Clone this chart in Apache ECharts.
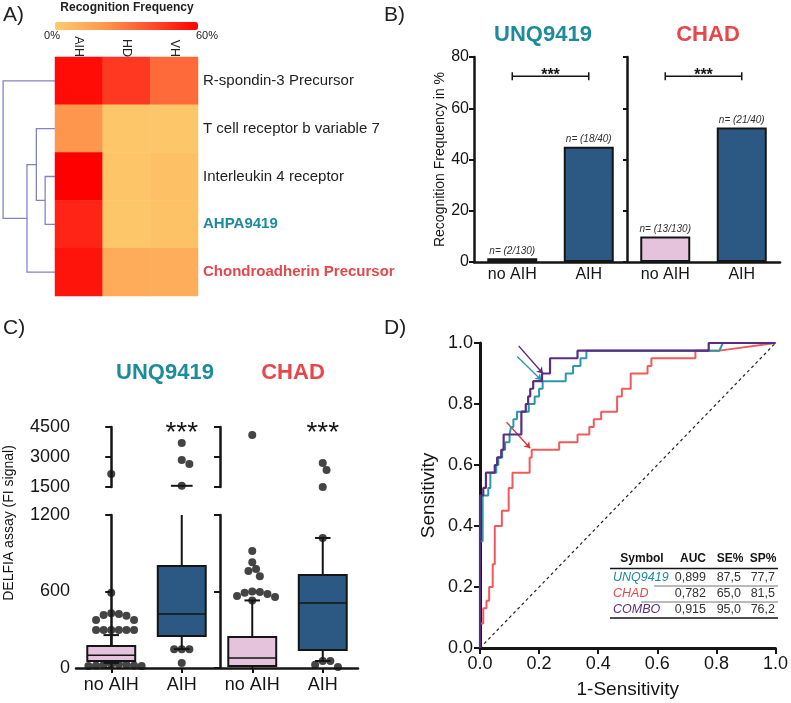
<!DOCTYPE html>
<html><head><meta charset="utf-8">
<script src="https://cdn.jsdelivr.net/npm/echarts@6/dist/echarts.min.js"></script>
<style>html,body{margin:0;padding:0;background:#fff}#c{width:791px;height:703px}</style>
</head><body><div id="c"></div>
<script>
// ---------- DATA ----------
// Panel A: heatmap (recognition frequency, %)
const heatCols = ['AIH', 'HD', 'VH'];
const heatRows = ['R-spondin-3 Precursor', 'T cell receptor b variable 7', 'Interleukin 4 receptor', 'AHPA9419', 'Chondroadherin Precursor'];
const heatVals = [
  [57, 46, 33],
  [21, 2, 2],
  [60, 3, 5],
  [51, 2, 4],
  [55, 13, 12]
];
// dendrogram merges: [nodeA, nodeB, height]; new node ids continue after the leaves
const dendroMerges = [[2, 3, 0.19], [1, 5, 0.36], [6, 4, 0.54], [0, 7, 1.0]];
const heatScaleMin = 0, heatScaleMax = 60;

// Panel B: bars
const barCats = ['no AIH', 'AIH', 'no AIH', 'AIH'];
const barVals = [1.5, 45, 10, 52.5];
const barN = ['n= (2/130)', 'n= (18/40)', 'n= (13/130)', 'n= (21/40)'];
const barSig = [[0, 72.5, 1], [2, 72.5, 3]];

// Panel C: box plots [min, Q1, median, Q3, max]
const boxCats = ['no AIH', 'AIH', 'no AIH', 'AIH'];
const boxStats = [
  [40, 55, 100, 172, 258],
  [148, 251, 424, 800, 1560],
  [0, 15, 78, 243, 530],
  [55, 141, 510, 730, 1020]
];
const boxOutliers = [
  [2150, 590, 430, 423, 416, 410, 376, 376, 298, 298, 298, 298, 298, 298, 30, 30, 25, 25, 20, 20, 15, 15],
  [3700, 2850, 2650, 1560, 148, 148, 148, 40],
  [4100, 917, 830, 776, 760, 720, 600, 596, 590, 580, 565, 557, 530],
  [2700, 2350, 1500, 1020, 55, 55, 25, 8]
];
const boxSig = [[1, 4500], [3, 4500]];

// Panel D: ROC curves [1-specificity, sensitivity]
const rocChad = [[0,0],[0,0.08],[0.011,0.08],[0.011,0.13],[0.022,0.13],[0.022,0.155],[0.031,0.155],[0.031,0.2],[0.043,0.2],[0.043,0.275],[0.05,0.275],[0.05,0.4],[0.074,0.4],[0.074,0.45],[0.097,0.45],[0.097,0.525],[0.11,0.525],[0.11,0.575],[0.168,0.575],[0.168,0.625],[0.175,0.625],[0.175,0.65],[0.268,0.65],[0.268,0.675],[0.33,0.675],[0.33,0.7],[0.37,0.7],[0.37,0.725],[0.385,0.725],[0.385,0.75],[0.41,0.75],[0.41,0.775],[0.464,0.775],[0.464,0.825],[0.48,0.825],[0.48,0.85],[0.51,0.85],[0.51,0.9],[0.567,0.9],[0.567,0.925],[0.58,0.925],[0.58,0.95],[0.729,0.95],[0.729,0.975],[0.81,0.975],[1,1]];
const rocUnq = [[0,0],[0,0.35],[0.009,0.35],[0.009,0.5],[0.028,0.5],[0.028,0.525],[0.035,0.525],[0.035,0.575],[0.055,0.575],[0.055,0.6],[0.062,0.6],[0.062,0.625],[0.075,0.625],[0.075,0.65],[0.085,0.65],[0.085,0.675],[0.1,0.675],[0.1,0.7],[0.105,0.7],[0.105,0.725],[0.113,0.725],[0.113,0.75],[0.125,0.75],[0.125,0.775],[0.165,0.775],[0.165,0.8],[0.185,0.8],[0.185,0.825],[0.2,0.825],[0.2,0.85],[0.212,0.85],[0.212,0.875],[0.29,0.875],[0.29,0.9],[0.315,0.9],[0.315,0.925],[0.34,0.925],[0.34,0.95],[0.36,0.95],[0.36,0.975],[0.81,0.975],[0.822,1],[1,1]];
const rocCombo = [[0,0],[0,0.5],[0.011,0.5],[0.011,0.525],[0.02,0.525],[0.02,0.575],[0.05,0.575],[0.05,0.6],[0.058,0.6],[0.058,0.625],[0.072,0.625],[0.072,0.65],[0.08,0.65],[0.08,0.7],[0.14,0.7],[0.14,0.775],[0.155,0.775],[0.155,0.8],[0.163,0.8],[0.163,0.825],[0.17,0.825],[0.17,0.85],[0.18,0.85],[0.18,0.875],[0.21,0.875],[0.21,0.9],[0.237,0.9],[0.237,0.95],[0.33,0.95],[0.33,0.975],[0.774,0.975],[0.774,1],[1,1]];
const rocArrowCombo = [[0.131, 0.99], [0.213, 0.9]];
const rocArrowUnq = [[0.126, 0.956], [0.208, 0.878]];
const rocArrowChad = [[0.09, 0.74], [0.17, 0.655]];

// table
const tblHead = ['Symbol', 'AUC', 'SE%', 'SP%'];
const tblNames = ['UNQ9419', 'CHAD', 'COMBO'];
const tblAUC = ['0,899', '0,782', '0,915'];
const tblSE = ['87,5', '65,0', '95,0'];
const tblSP = ['77,7', '81,5', '76,2'];

// ---------- STYLE ----------
const FONT = '"Liberation Sans", Arial, Helvetica, sans-serif';
const TEAL = '#1c8b9e', RED = '#e5474a', PURPLE = '#5a2d82', TEAL_L = '#2a98ab', RED_L = '#f15a5c';
const PINK = '#e6c3dc', BLUE = '#2c5884', INK = '#151515';
const groupColors = [PINK, BLUE, PINK, BLUE];

// layout of panel C (used for the dot swarm)
const C_LEFT = 76, C_W = 282, UP_TOP = 427, UP_H = 60, LO_TOP = 515, LO_H = 153;

// ---------- HELPERS ----------
function dendroSegments(merges, nLeaves) {
  const pos = [], h = [], segs = [];
  for (let i = 0; i < nLeaves; i++) { pos[i] = i; h[i] = 0; }
  merges.forEach((m, k) => {
    const a = m[0], b = m[1], ht = m[2], id = nLeaves + k;
    segs.push({ coords: [[h[a], pos[a]], [ht, pos[a]], [ht, pos[b]], [h[b], pos[b]]] });
    pos[id] = (pos[a] + pos[b]) / 2; h[id] = ht;
  });
  return segs;
}
function swarm(lists, lo, hi, pxPerUnit, catPx) {
  const placed = [], out = [];
  const dmin = 7.2, step = 3.8;
  lists.forEach((vals, g) => {
    vals.forEach(v => {
      if (v < lo || v > hi) return;
      const py = (v - lo) * pxPerUnit;
      for (let k = 0; k < 60; k++) {
        const off = (k % 2 === 1 ? 1 : -1) * Math.ceil(k / 2) * step;
        const px = g * catPx + off;
        if (placed.every(p => (p[0] - px) ** 2 + (p[1] - py) ** 2 >= dmin * dmin)) {
          placed.push([px, py]); out.push([g + off / catPx, v]); break;
        }
      }
    });
  });
  return out;
}
const heatData = [];
heatVals.forEach((row, r) => row.forEach((v, c) => heatData.push([c, r, v])));

const catPx = C_W / 4;
const lowerDots = swarm(boxOutliers, 0, 1200, LO_H / 1200, catPx);
const upperDots = swarm(boxOutliers, 1500, 4500, UP_H / 3000, catPx);

function boxRender(lower) {
  return function (params, api) {
    const i = api.value(0), mn = api.value(1), q1 = api.value(2), md = api.value(3), q3 = api.value(4), mx = api.value(5);
    const cw = api.size([1, 0])[0];
    const hw = cw * 0.34, cap = cw * 0.11;
    const x = api.coord([i, 0])[0];
    const Y = v => api.coord([i, v])[1];
    const ls = { stroke: INK, lineWidth: 2 };
    const ch = [];
    if (lower) {
      const top = Math.min(mx, 1200);
      ch.push({ type: 'line', shape: { x1: x, y1: Y(q3), x2: x, y2: Y(top) }, style: ls });
      if (mx <= 1200) ch.push({ type: 'line', shape: { x1: x - cap, y1: Y(mx), x2: x + cap, y2: Y(mx) }, style: ls });
      if (mn < q1) {
        ch.push({ type: 'line', shape: { x1: x, y1: Y(q1), x2: x, y2: Y(mn) }, style: ls });
        if (mn > 0) ch.push({ type: 'line', shape: { x1: x - cap, y1: Y(mn), x2: x + cap, y2: Y(mn) }, style: ls });
      }
      ch.push({ type: 'rect', shape: { x: x - hw, y: Y(q3), width: 2 * hw, height: Y(q1) - Y(q3) },
        style: { fill: groupColors[i], stroke: INK, lineWidth: 2 } });
      ch.push({ type: 'line', shape: { x1: x - hw, y1: Y(md), x2: x + hw, y2: Y(md) }, style: { stroke: INK, lineWidth: 1.6 } });
    } else if (mx >= 1500) {
      ch.push({ type: 'line', shape: { x1: x, y1: Y(1500), x2: x, y2: Y(mx) }, style: ls });
      ch.push({ type: 'line', shape: { x1: x - cap * 1.4, y1: Y(mx), x2: x + cap * 1.4, y2: Y(mx) }, style: ls });
    }
    return { type: 'group', children: ch };
  };
}

function txt(x, y, text, o) {
  o = o || {};
  return {
    type: 'text', x: x, y: y, rotation: o.rot || 0, silent: true,
    style: {
      text: text, fill: o.color || INK, fontSize: o.size || 14, fontWeight: o.weight || 'normal',
      fontStyle: o.style || 'normal', fontFamily: FONT,
      align: o.align || 'center', textAlign: o.align || 'center',
      verticalAlign: o.va || 'middle', textVerticalAlign: o.va || 'middle'
    }
  };
}
function hline(x1, x2, y, w, c) {
  return { type: 'line', silent: true, shape: { x1: x1, y1: y, x2: x2, y2: y }, style: { stroke: c || INK, lineWidth: w } };
}

// ---------- GRAPHIC TEXT ----------
const graphics = [
  txt(3, 15, 'A)', { size: 21, align: 'left', color: '#222' }),
  txt(384, 15, 'B)', { size: 21, align: 'left', color: '#222' }),
  txt(3, 328, 'C)', { size: 21, align: 'left', color: '#222' }),
  txt(384, 328, 'D)', { size: 21, align: 'left', color: '#222' }),
  txt(127, 8, 'Recognition Frequency', { size: 12, weight: 'bold', color: '#222' }),
  txt(52, 36, '0%', { size: 11, color: '#222' }),
  txt(207, 36, '60%', { size: 11, color: '#222' }),
  txt(543, 35, 'UNQ9419', { size: 22, weight: 'bold', color: TEAL }),
  txt(708, 35, 'CHAD', { size: 22, weight: 'bold', color: RED }),
  txt(165, 373, 'UNQ9419', { size: 22, weight: 'bold', color: TEAL }),
  txt(293, 373, 'CHAD', { size: 22, weight: 'bold', color: RED }),
  txt(9, 523, 'DELFIA assay (FI signal)', { size: 14, rot: Math.PI / 2 })
];
// table
const colX = [642, 693, 730, 763];
tblHead.forEach((h, i) => graphics.push(txt(colX[i], 559, h, { size: 12, weight: 'bold' })));
graphics.push(hline(610, 778, 568.5, 1.5));
const rowY = [578, 594, 610];
const nameCols = [TEAL, RED, PURPLE];
tblNames.forEach((n, r) => {
  graphics.push(txt(613, rowY[r], n, { size: 12.5, style: 'italic', align: 'left', color: nameCols[r] }));
  graphics.push(txt(706, rowY[r], tblAUC[r], { size: 12.5, align: 'right', color: '#333' }));
  graphics.push(txt(741, rowY[r], tblSE[r], { size: 12.5, align: 'right', color: '#333' }));
  graphics.push(txt(775, rowY[r], tblSP[r], { size: 12.5, align: 'right', color: '#333' }));
});
graphics.push(hline(654, 778, 586, 1, '#777'));
graphics.push(hline(641, 778, 602, 1, '#777'));
graphics.push(hline(610, 778, 618, 1.5));

// ---------- CHART ----------
const chart = echarts.init(document.getElementById('c'), null, { renderer: 'canvas', width: 791, height: 703 });
const axLine = w => ({ show: true, lineStyle: { color: INK, width: w } });
const axTick = (len) => ({ show: true, length: len, lineStyle: { color: INK, width: 2 } });
const plain = v => String(v);

const option = {
  animation: false,
  textStyle: { fontFamily: FONT },
  graphic: graphics,
  grid: [
    { left: 0, top: 57, width: 55, height: 239 },
    { left: 55, top: 57, width: 143, height: 239 },
    { left: 474, top: 57, width: 306, height: 205 },
    { left: C_LEFT, top: UP_TOP, width: C_W, height: UP_H },
    { left: C_LEFT, top: LO_TOP, width: C_W, height: LO_H },
    { left: 480, top: 343, width: 298, height: 305 }
  ],
  visualMap: {
    type: 'continuous', min: heatScaleMin, max: heatScaleMax, seriesIndex: 1, orient: 'horizontal',
    left: 55, top: 22, itemWidth: 8, itemHeight: 143, padding: 0, calculable: false, hoverLink: false,
    inRange: { color: ['#fdcc6c', '#fe9a50', '#ff5030', '#ff0000'] }
  },
  xAxis: [
    { gridIndex: 0, type: 'value', min: 0, max: 1.06, inverse: true, show: false },
    { gridIndex: 1, type: 'category', data: heatCols, position: 'top', axisLine: { show: false }, axisTick: { show: false },
      axisLabel: { rotate: 90, fontSize: 12.5, color: '#222', margin: 0 } },
    { gridIndex: 2, type: 'category', data: barCats, axisLine: axLine(2.5), axisTick: { show: false },
      axisLabel: { fontSize: 16, color: INK, margin: 5, interval: 0 } },
    { gridIndex: 3, type: 'value', min: -0.5, max: 3.5, show: false },
    { gridIndex: 4, type: 'category', data: boxCats, axisLine: axLine(2.5),
      axisTick: { show: true, alignWithLabel: true, interval: 0, length: 5, lineStyle: { color: INK, width: 2 } },
      axisLabel: { fontSize: 18, color: INK, margin: 8, interval: 0 } },
    { gridIndex: 4, type: 'value', min: -0.5, max: 3.5, show: false },
    { gridIndex: 5, type: 'value', min: 0, max: 1, interval: 0.2, axisLine: axLine(3), axisTick: axTick(6),
      splitLine: { show: false }, axisLabel: { fontSize: 18, color: INK, margin: 7, formatter: v => v.toFixed(1) },
      name: '1-Sensitivity', nameLocation: 'middle', nameGap: 32, nameTextStyle: { fontSize: 19, color: INK } }
  ],
  yAxis: [
    { gridIndex: 0, type: 'value', min: -0.5, max: 4.5, inverse: true, show: false },
    { gridIndex: 1, type: 'category', data: heatRows, inverse: true, position: 'right', axisLine: { show: false }, axisTick: { show: false },
      axisLabel: { fontSize: 15, color: '#222', margin: 5,
        formatter: (v, i) => i === 3 ? '{t|' + v + '}' : (i === 4 ? '{r|' + v + '}' : v),
        rich: { t: { fontSize: 15, fontWeight: 'bold', color: TEAL }, r: { fontSize: 15, fontWeight: 'bold', color: RED } } } },
    { gridIndex: 2, type: 'value', position: 'left', min: 0, max: 80, interval: 20, axisLine: axLine(2.5), axisTick: axTick(5),
      splitLine: { show: false }, axisLabel: { fontSize: 16, color: INK, margin: 5 },
      name: 'Recognition Frequency in %', nameLocation: 'middle', nameGap: 20, nameTextStyle: { fontSize: 14, color: INK } },
    { gridIndex: 2, type: 'value', position: 'left', offset: -153, min: 0, max: 80, interval: 20, axisLine: axLine(2.5), axisTick: axTick(4),
      splitLine: { show: false }, axisLabel: { show: false } },
    { gridIndex: 3, type: 'value', position: 'left', min: 1500, max: 4500, interval: 1500, axisLine: axLine(2.5), axisTick: axTick(6),
      splitLine: { show: false }, axisLabel: { fontSize: 18, color: INK, margin: 6, formatter: plain } },
    { gridIndex: 3, type: 'value', position: 'left', offset: -144, min: 1500, max: 4500, interval: 1500, axisLine: axLine(2.5), axisTick: axTick(6),
      splitLine: { show: false }, axisLabel: { show: false } },
    { gridIndex: 4, type: 'value', position: 'left', min: 0, max: 1200, interval: 600, axisLine: axLine(2.5), axisTick: axTick(6),
      splitLine: { show: false }, axisLabel: { fontSize: 18, color: INK, margin: 6, formatter: plain } },
    { gridIndex: 4, type: 'value', position: 'left', offset: -144, min: 0, max: 1200, interval: 600, axisLine: axLine(2.5), axisTick: axTick(6),
      splitLine: { show: false }, axisLabel: { show: false } },
    { gridIndex: 5, type: 'value', min: 0, max: 1, interval: 0.2, axisLine: axLine(3), axisTick: axTick(6),
      splitLine: { show: false }, axisLabel: { fontSize: 18, color: INK, margin: 7, formatter: v => v.toFixed(1) },
      name: 'Sensitivity', nameLocation: 'middle', nameGap: 42, nameTextStyle: { fontSize: 19, color: INK } }
  ],
  series: [
    { type: 'lines', coordinateSystem: 'cartesian2d', xAxisIndex: 0, yAxisIndex: 0, polyline: true, silent: true,
      lineStyle: { color: '#8383c4', width: 1.3, opacity: 1 }, data: dendroSegments(dendroMerges, heatRows.length) },
    { type: 'heatmap', xAxisIndex: 1, yAxisIndex: 1, data: heatData, silent: true, itemStyle: { borderWidth: 0 } },
    { type: 'bar', xAxisIndex: 2, yAxisIndex: 2, barWidth: 50, silent: true,
      data: barVals.map((v, i) => ({ value: v, itemStyle: { color: groupColors[i], borderColor: INK, borderWidth: 2 } })),
      label: { show: true, position: 'top', distance: 2, fontSize: 10, fontStyle: 'italic', color: '#333', formatter: p => barN[p.dataIndex] } },
    { type: 'custom', xAxisIndex: 2, yAxisIndex: 2, silent: true, data: barSig, encode: { x: 0, y: 1 },
      renderItem: (params, api) => {
        const a = api.coord([api.value(0), api.value(1)]);
        const b = api.coord([api.value(2), api.value(1)]);
        const ls = { stroke: INK, lineWidth: 1.5 };
        return { type: 'group', children: [
          { type: 'line', shape: { x1: a[0], y1: a[1], x2: b[0], y2: b[1] }, style: ls },
          { type: 'line', shape: { x1: a[0], y1: a[1] - 4, x2: a[0], y2: a[1] + 4 }, style: ls },
          { type: 'line', shape: { x1: b[0], y1: b[1] - 4, x2: b[0], y2: b[1] + 4 }, style: ls },
          { type: 'text', x: (a[0] + b[0]) / 2, y: a[1] - 1, style: { text: '***', fontSize: 16, fontWeight: 'bold', fontFamily: FONT, fill: INK, align: 'center', verticalAlign: 'middle' } }
        ] };
      } },
    { type: 'custom', xAxisIndex: 5, yAxisIndex: 6, silent: true, encode: { x: 0, y: [1, 2, 3, 4, 5] },
      data: boxStats.map((s, i) => [i].concat(s)), renderItem: boxRender(true) },
    { type: 'custom', xAxisIndex: 3, yAxisIndex: 4, silent: true, encode: { x: 0, y: [1, 2, 3, 4, 5] },
      data: boxStats.map((s, i) => [i].concat(s)), renderItem: boxRender(false) },
    { type: 'scatter', xAxisIndex: 5, yAxisIndex: 6, clip: false, silent: true, symbolSize: 8, itemStyle: { color: INK }, data: lowerDots, z: 5 },
    { type: 'scatter', xAxisIndex: 3, yAxisIndex: 4, clip: false, silent: true, symbolSize: 8, itemStyle: { color: INK }, data: upperDots, z: 5 },
    { type: 'custom', xAxisIndex: 3, yAxisIndex: 4, silent: true, data: boxSig, encode: { x: 0, y: 1 },
      renderItem: (params, api) => {
        const p = api.coord([api.value(0), api.value(1)]);
        return { type: 'text', x: p[0], y: p[1] + 6, style: { text: '***', fontSize: 28, fontFamily: FONT, fill: INK, align: 'center', verticalAlign: 'middle' } };
      } },
    { type: 'line', xAxisIndex: 6, yAxisIndex: 8, data: [[0, 0], [1, 1]], showSymbol: false, silent: true,
      lineStyle: { color: '#222', width: 1.2, type: [3, 3] } },
    { type: 'line', xAxisIndex: 6, yAxisIndex: 8, data: rocChad, showSymbol: false, silent: true, lineStyle: { color: RED_L, width: 2 } },
    { type: 'line', xAxisIndex: 6, yAxisIndex: 8, data: rocUnq, showSymbol: false, silent: true, lineStyle: { color: TEAL_L, width: 2 } },
    { type: 'line', xAxisIndex: 6, yAxisIndex: 8, data: rocCombo, showSymbol: false, silent: true, lineStyle: { color: PURPLE, width: 2.2 } },
    { type: 'lines', coordinateSystem: 'cartesian2d', xAxisIndex: 6, yAxisIndex: 8, silent: true,
      symbol: ['none', 'arrow'], symbolSize: 6,
      data: [
        { coords: rocArrowCombo, lineStyle: { color: PURPLE, width: 1.3, opacity: 1 } },
        { coords: rocArrowUnq, lineStyle: { color: TEAL_L, width: 1.3, opacity: 1 } },
        { coords: rocArrowChad, lineStyle: { color: '#d9363a', width: 1.3, opacity: 1 } }
      ] }
  ]
};
chart.setOption(option);
</script>
</body></html>
